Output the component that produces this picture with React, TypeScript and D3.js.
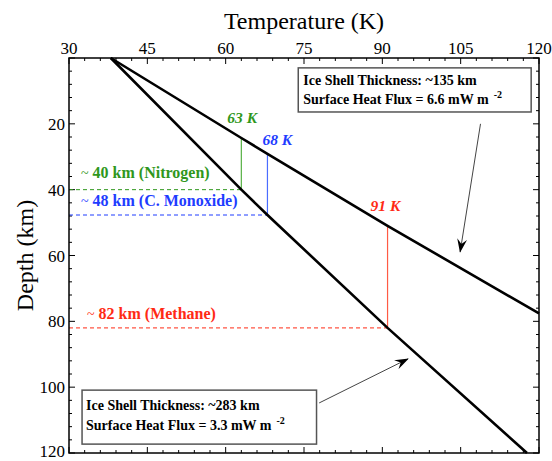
import React from "react";
import * as d3 from "d3";

// Axis ticks
const TEMP_TICKS = [30, 45, 60, 75, 90, 105, 120];
const DEPTH_LABELS = [20, 40, 60, 80, 100, 120];

// Conductive temperature profiles (temperature K, depth km)
const THIN_SHELL_TEMP = [38, 63, 68, 91, 120];
const THIN_SHELL_DEPTH = [0, 24.3, 29.1, 51, 77.6];
const THICK_SHELL_TEMP = [38, 63, 68, 91, 117.7];
const THICK_SHELL_DEPTH = [0, 40, 47.7, 82, 120];

// Melting points of volatiles and where each profile crosses them
const VOLATILES = ["Nitrogen", "C. Monoxide", "Methane"];
const MELT_TEMP = [63, 68, 91];
const MELT_DEPTH_THIN = [24.3, 29.1, 51];
const MELT_DEPTH_THICK = [40, 47.7, 82];
const MELT_DEPTH_LABEL = [40, 48, 82];

// Shell annotations
const THIN_SHELL_THICKNESS = 135;
const THIN_SHELL_FLUX = 6.6;
const THICK_SHELL_THICKNESS = 283;
const THICK_SHELL_FLUX = 3.3;

const COLORS = ["#2f971c", "#1e3cff", "#ff2a14"];
const LIGHT = ["#55b043", "#4a6cff", "#ff5a44"];
// label offsets in px from the crossing points
const TEMP_LABEL_OFFSET = [
  [-14, -15],
  [-5, -9],
  [-17, -15],
];
const DEPTH_LABEL_POS = [
  [81, -12],
  [81, -9.5],
  [87, -9],
];

const W = 552;
const H = 461;
const M = { left: 69, right: 539, top: 58, bottom: 453 };
const FONT = "'Liberation Serif', 'Times New Roman', serif";

export default function App() {
  const x = d3.scaleLinear().domain([30, 120]).range([M.left, M.right]);
  const y = d3.scaleLinear().domain([0, 120]).range([M.top, M.bottom]);

  const thin = THIN_SHELL_TEMP.map((t, i) => [t, THIN_SHELL_DEPTH[i]] as [number, number]);
  const thick = THICK_SHELL_TEMP.map((t, i) => [t, THICK_SHELL_DEPTH[i]] as [number, number]);
  const line = d3
    .line<[number, number]>()
    .x((d) => x(d[0]))
    .y((d) => y(d[1]));

  const tempMinor = d3.range(30, 120.01, 3);
  const depthMinor = d3.range(0, 120.01, 4);
  const tempMajor = new Set(TEMP_TICKS);
  const depthMajor = new Set([0, ...DEPTH_LABELS]);

  const MAJ = 6;
  const MIN = 3;

  return (
    <svg
      width={W}
      height={H}
      style={{ position: "absolute", left: 0, top: 0, background: "#fff" }}
      fontFamily={FONT}
    >
      <defs>
        <marker
          id="head"
          viewBox="0 0 14 10"
          refX="13"
          refY="5"
          markerWidth="14"
          markerHeight="10"
          markerUnits="userSpaceOnUse"
          orient="auto"
        >
          <path d="M0,0 L14,5 L0,10 L5,5 Z" fill="#000" />
        </marker>
      </defs>

      {/* titles */}
      <text x={(M.left + M.right) / 2} y={29} textAnchor="middle" fontSize={24}>
        Temperature (K)
      </text>
      <text
        transform={`translate(33,${(M.top + M.bottom) / 2}) rotate(-90)`}
        textAnchor="middle"
        fontSize={24}
      >
        Depth (km)
      </text>

      {/* tick labels */}
      {TEMP_TICKS.map((t) => (
        <text key={"tl" + t} x={x(t)} y={54} textAnchor="middle" fontSize={17}>
          {t}
        </text>
      ))}
      {DEPTH_LABELS.map((d) => (
        <text key={"dl" + d} x={65} y={Math.min(y(d) + 6, 457)} textAnchor="end" fontSize={17}>
          {d}
        </text>
      ))}

      {/* ticks on all four sides */}
      <g stroke="#000" strokeWidth={1}>
        {tempMinor.map((t) => {
          const l = tempMajor.has(Math.round(t)) ? MAJ : MIN;
          return (
            <g key={"tx" + t}>
              <line x1={x(t)} x2={x(t)} y1={M.top} y2={M.top + l} />
              <line x1={x(t)} x2={x(t)} y1={M.bottom} y2={M.bottom - l} />
            </g>
          );
        })}
        {depthMinor.map((d) => {
          const l = depthMajor.has(Math.round(d)) ? MAJ : MIN;
          return (
            <g key={"ty" + d}>
              <line x1={M.left} x2={M.left + l} y1={y(d)} y2={y(d)} />
              <line x1={M.right} x2={M.right - l} y1={y(d)} y2={y(d)} />
            </g>
          );
        })}
      </g>

      {/* melting point markers */}
      {MELT_TEMP.map((t, i) => (
        <g key={"m" + i}>
          <line
            x1={x(t)}
            x2={x(t)}
            y1={y(MELT_DEPTH_THIN[i])}
            y2={y(MELT_DEPTH_THICK[i])}
            stroke={LIGHT[i]}
            strokeWidth={1.2}
          />
          <line
            x1={M.left}
            x2={x(t)}
            y1={y(MELT_DEPTH_THICK[i])}
            y2={y(MELT_DEPTH_THICK[i])}
            stroke={COLORS[i]}
            strokeWidth={1}
            strokeDasharray="4,3"
          />
          <text
            x={x(t) + TEMP_LABEL_OFFSET[i][0]}
            y={y(MELT_DEPTH_THIN[i]) + TEMP_LABEL_OFFSET[i][1]}
            fill={COLORS[i]}
            fontSize={15.5}
            fontWeight="bold"
            fontStyle="italic"
          >
            {t} K
          </text>
          <text
            x={DEPTH_LABEL_POS[i][0]}
            y={y(MELT_DEPTH_THICK[i]) + DEPTH_LABEL_POS[i][1]}
            fill={COLORS[i]}
            fontSize={16}
            fontWeight="bold"
          >
            <tspan fontWeight="normal" fontSize={14}>~</tspan> {MELT_DEPTH_LABEL[i]} km ({VOLATILES[i]})
          </text>
        </g>
      ))}

      {/* temperature profiles */}
      <path d={line(thin) ?? ""} fill="none" stroke="#000" strokeWidth={2.6} />
      <path d={line(thick) ?? ""} fill="none" stroke="#000" strokeWidth={2.6} />

      {/* frame */}
      <rect
        x={M.left}
        y={M.top}
        width={M.right - M.left}
        height={M.bottom - M.top}
        fill="none"
        stroke="#000"
        strokeWidth={1.5}
      />

      {/* thin shell annotation */}
      <rect
        x={x(73.9)}
        y={y(3.0)}
        width={x(118.5) - x(73.9)}
        height={y(16.4) - y(3.0)}
        fill="#fff"
        stroke="#555"
        strokeWidth={1.5}
      />
      <g fontSize={14} fontWeight="bold">
        <text x={x(73.9) + 5} y={y(3.0) + 17}>
          Ice Shell Thickness: ~{THIN_SHELL_THICKNESS} km
        </text>
        <text x={x(73.9) + 5} y={y(3.0) + 36}>
          Surface Heat Flux = {THIN_SHELL_FLUX} mW m
          <tspan dx={5} dy={-6} fontSize={10}>
            -2
          </tspan>
        </text>
      </g>
      <line
        x1={x(108.8)}
        y1={y(20)}
        x2={x(104.9)}
        y2={y(58.9)}
        stroke="#444"
        strokeWidth={1}
        markerEnd="url(#head)"
      />

      {/* thick shell annotation */}
      <rect
        x={x(32.5)}
        y={y(100.9)}
        width={x(77.4) - x(32.5)}
        height={y(117.3) - y(100.9)}
        fill="#fff"
        stroke="#555"
        strokeWidth={1.5}
      />
      <g fontSize={14} fontWeight="bold">
        <text x={x(32.5) + 4} y={y(100.9) + 20}>
          Ice Shell Thickness: ~{THICK_SHELL_THICKNESS} km
        </text>
        <text x={x(32.5) + 4} y={y(100.9) + 40}>
          Surface Heat Flux = {THICK_SHELL_FLUX} mW m
          <tspan dx={5} dy={-6} fontSize={10}>
            -2
          </tspan>
        </text>
      </g>
      <line
        x1={x(77.9)}
        y1={y(104.8)}
        x2={x(94.9)}
        y2={y(91.4)}
        stroke="#444"
        strokeWidth={1}
        markerEnd="url(#head)"
      />
    </svg>
  );
}
